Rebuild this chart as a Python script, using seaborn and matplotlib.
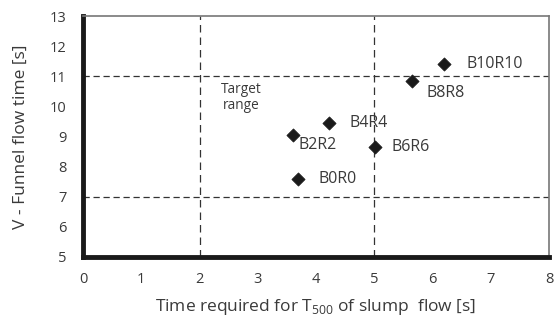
import matplotlib
matplotlib.use("Agg")
import matplotlib.pyplot as plt
import seaborn as sns
import pandas as pd

labels = ["B0R0", "B2R2", "B4R4", "B6R6", "B8R8", "B10R10"]
t500 = [3.69, 3.60, 4.22, 5.01, 5.65, 6.20]
vfunnel = [7.58, 9.05, 9.44, 8.65, 10.84, 11.40]
label_dx = [0.36, 0.10, 0.35, 0.29, 0.25, 0.39]
label_dy = [0.0, -0.32, 0.0, 0.0, -0.40, 0.0]
xticks = list(range(0, 9))
yticks = list(range(5, 14))

sns.set_theme(style="white")
plt.rcParams['font.family'] = ['Open Sans', 'DejaVu Sans']
txt = "#3a3a3a"

df = pd.DataFrame({"x": t500, "y": vfunnel, "label": labels})

fig = plt.figure(figsize=(5.54, 3.2), dpi=100)
ax = fig.add_axes([0.150, 0.197, 0.841, 0.753])

ax.axvline(2, color="#333333", lw=0.9, ls=(0, (6, 4)), zorder=1)
ax.axvline(5, color="#333333", lw=0.9, ls=(0, (6, 4)), zorder=1)
ax.axhline(7, color="#333333", lw=0.9, ls=(0, (5, 3)), zorder=1)
ax.axhline(11, color="#333333", lw=0.9, ls=(0, (5, 3)), zorder=1)

sns.scatterplot(data=df, x="x", y="y", marker="D", s=45, color="#1a1a1a",
                edgecolor="#1a1a1a", ax=ax, zorder=3, legend=False)

for lab, x, y, dx, dy in zip(labels, t500, vfunnel, label_dx, label_dy):
    ax.text(x + dx, y + dy, lab, fontsize=11.5, color=txt, va="center", ha="left")

ax.text(2.71, 10.28, "Target\nrange", fontsize=9.8, color=txt, ha="center",
        va="center", linespacing=1.1)

ax.set_xlim(0, 8)
ax.set_ylim(5, 13)
ax.set_xticks(xticks)
ax.set_yticks(yticks)
ax.tick_params(axis="both", labelsize=10.5, colors=txt, length=3, width=3,
               direction="out")
ax.tick_params(axis="x", pad=8)
ax.tick_params(axis="y", pad=9)
ax.tick_params(axis="both", color="#1a1a1a")

for s in ["left", "bottom"]:
    ax.spines[s].set_linewidth(3.5)
    ax.spines[s].set_color("#1a1a1a")
for s in ["top", "right"]:
    ax.spines[s].set_linewidth(1.2)
    ax.spines[s].set_color("#777777")

ax.set_xlabel(r"Time required for T$_{\mathregular{500}}$ of slump  flow [s]",
              fontsize=12.5, color=txt, labelpad=7)
ax.set_ylabel("V - Funnel flow time [s]", fontsize=12.5, color=txt, labelpad=15)

fig.savefig("out.png", dpi=100)
